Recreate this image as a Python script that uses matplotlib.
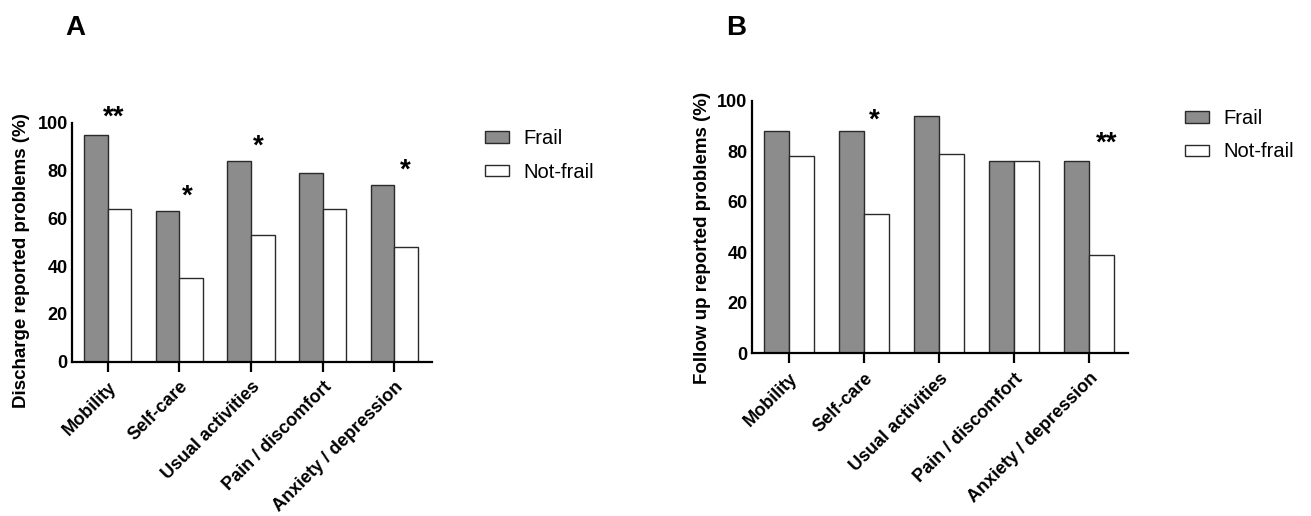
import matplotlib.pyplot as plt
import numpy as np
from matplotlib.patches import Patch

categories = ["Mobility", "Self-care", "Usual activities", "Pain / discomfort", "Anxiety / depression"]

discharge_frail = [95, 63, 84, 79, 74]
discharge_not_frail = [64, 35, 53, 64, 48]
followup_frail = [88, 88, 94, 76, 76]
followup_not_frail = [78, 55, 79, 76, 39]

# significance marks: (category index, x shift, height, label)
discharge_marks = [(0, 0.08, 102, "**"), (1, 0.11, 69, "*"), (2, 0.10, 90, "*"), (4, 0.15, 80, "*")]
followup_marks = [(1, 0.13, 92, "*"), (4, 0.24, 83, "**")]

plt.rcParams["font.family"] = ["Liberation Sans", "DejaVu Sans"]

FRAIL = "#8c8c8c"
EDGE = "#2a2a2a"


def panel(ax, frail, not_frail, marks, ylabel, label_xy):
    x = np.arange(len(categories))
    w = 0.33
    ax.bar(x - w / 2, frail, w, color=FRAIL, edgecolor=EDGE, linewidth=1.0)
    ax.bar(x + w / 2, not_frail, w, color="white", edgecolor=EDGE, linewidth=1.0)
    ax.set_xlim(-0.5, len(categories) - 0.48)
    ax.set_ylim(0, 100)
    ax.set_yticks(range(0, 101, 20))
    ax.set_xticks(x)
    ax.set_xticklabels(categories, rotation=45, ha="right", va="top",
                       rotation_mode="anchor", fontsize=13, fontweight="bold")
    ax.tick_params(axis="x", direction="out", length=7, width=1.6, pad=5)
    ax.tick_params(axis="y", length=0, pad=3, labelsize=13)
    for t in ax.get_yticklabels():
        t.set_fontweight("bold")
    for s in ("top", "right"):
        ax.spines[s].set_visible(False)
    for s in ("left", "bottom"):
        ax.spines[s].set_linewidth(1.6)
    ax.set_ylabel(ylabel, fontsize=13.5, fontweight="bold")
    ax.yaxis.set_label_coords(*label_xy)
    for i, dx, h, lab in marks:
        ax.text(i + dx, h, lab, ha="center", va="center", fontsize=20,
                fontweight="bold", clip_on=False)


fig = plt.figure(figsize=(13.11, 5.16), dpi=100)
ax_a = fig.add_axes([0.0549, 0.299, 0.2744, 0.463])
ax_b = fig.add_axes([0.5734, 0.3153, 0.287, 0.4895])

panel(ax_a, discharge_frail, discharge_not_frail, discharge_marks,
      "Discharge reported problems (%)", (-0.117, 0.425))
panel(ax_b, followup_frail, followup_not_frail, followup_marks,
      "Follow up reported problems (%)", (-0.107, 0.456))

handles = [Patch(facecolor=FRAIL, edgecolor=EDGE, label="Frail"),
           Patch(facecolor="white", edgecolor=EDGE, label="Not-frail")]
for anchor in [(485 / 1311, 1 - 129 / 516), (1185 / 1311, 1 - 109 / 516)]:
    fig.legend(handles=handles, loc="upper left", bbox_to_anchor=anchor, frameon=False,
               fontsize=14.5, handlelength=1.2, handleheight=0.5, handletextpad=0.7,
               labelspacing=0.72, borderpad=0, borderaxespad=0)

fig.text(75 / 1311, 1 - 28 / 516, "A", fontsize=20, fontweight="bold", ha="center", va="center")
fig.text(736 / 1311, 1 - 28 / 516, "B", fontsize=20, fontweight="bold", ha="center", va="center")

fig.savefig("out.png", dpi=100)
